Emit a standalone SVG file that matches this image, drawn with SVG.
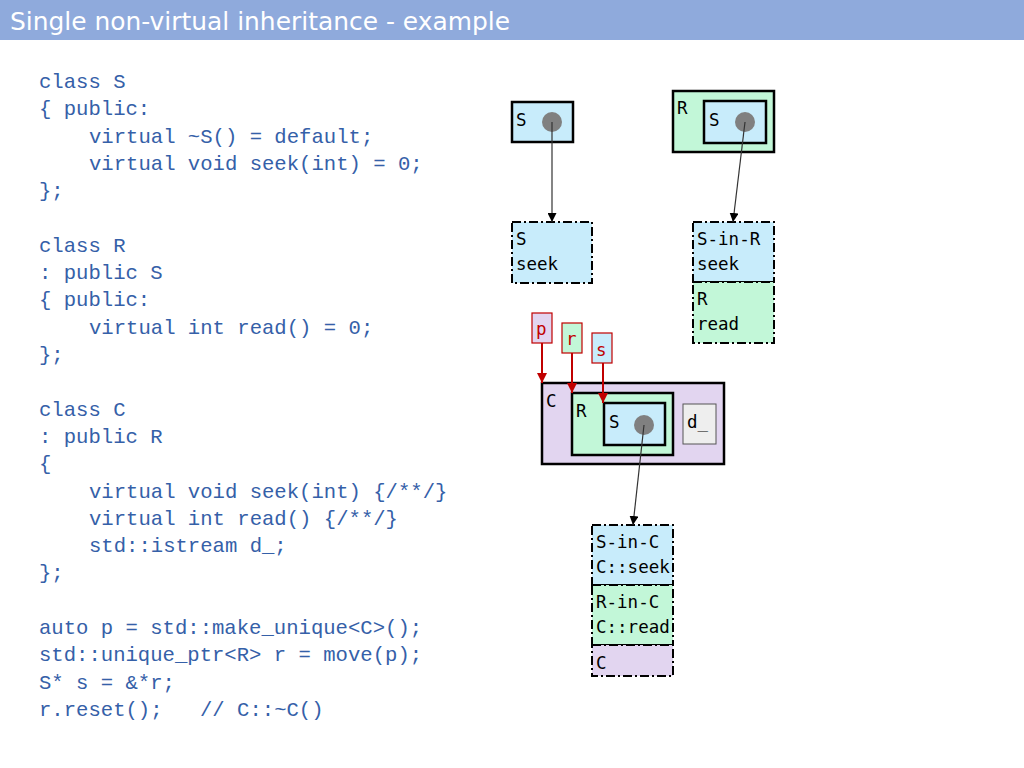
<svg xmlns="http://www.w3.org/2000/svg" width="1024" height="768" viewBox="0 0 1024 768">
<defs>
<style>
.code{font-family:"Liberation Mono","DejaVu Sans Mono",monospace;font-size:20.6px;fill:#3560A8;}
.lbl{font-family:"DejaVu Sans Mono","Liberation Mono",monospace;font-size:17.5px;fill:#000;}
.ptr{font-family:"DejaVu Sans Mono","Liberation Mono",monospace;font-size:17.5px;fill:#C00000;}
.obj{stroke:#000;stroke-width:2.5;}
.vt{stroke:#000;stroke-width:2;stroke-dasharray:9,3,2,3;}
.blue{fill:#C8ECFB;}
.green{fill:#C2F7D8;}
.purple{fill:#E2D5F0;}
.dot{fill:#808080;}
.link{stroke:#333;stroke-width:1.2;fill:none;marker-end:url(#ah);}
.plink{stroke:#C00000;stroke-width:2;fill:none;marker-end:url(#rh);}
.pbox{stroke:#C00000;stroke-width:1.2;}
</style>
<marker id="ah" viewBox="0 0 10 10" refX="10" refY="5" markerWidth="9" markerHeight="9" markerUnits="userSpaceOnUse" orient="auto"><path d="M0,0 L10,5 L0,10 z" fill="#000"/></marker>
<marker id="rh" viewBox="0 0 10 10" refX="10" refY="5" markerWidth="10" markerHeight="10" markerUnits="userSpaceOnUse" orient="auto"><path d="M0,0 L10,5 L0,10 z" fill="#C00000"/></marker>
</defs>
<rect x="0" y="0" width="1024" height="768" fill="#fff"/>
<rect x="0" y="0" width="1024" height="40" fill="#8FAADC"/>
<text x="10" y="30" font-family="'DejaVu Sans',Verdana,sans-serif" font-size="25" fill="#fff" textLength="500" lengthAdjust="spacingAndGlyphs">Single non-virtual inheritance - example</text>

<g id="code" class="code">
<text x="39" y="88">class S</text>
<text x="39" y="115.3">{ public:</text>
<text x="89" y="142.6">virtual ~S() = default;</text>
<text x="89" y="169.9">virtual void seek(int) = 0;</text>
<text x="39" y="197.2">};</text>
<text x="39" y="251.8">class R</text>
<text x="39" y="279.1">: public S</text>
<text x="39" y="306.4">{ public:</text>
<text x="89" y="333.7">virtual int read() = 0;</text>
<text x="39" y="361">};</text>
<text x="39" y="415.6">class C</text>
<text x="39" y="442.9">: public R</text>
<text x="39" y="470.2">{</text>
<text x="89" y="497.5">virtual void seek(int) {/**/}</text>
<text x="89" y="524.8">virtual int read() {/**/}</text>
<text x="89" y="552.1">std::istream d_;</text>
<text x="39" y="579.4">};</text>
<text x="39" y="634">auto p = std::make_unique&lt;C&gt;();</text>
<text x="39" y="661.3">std::unique_ptr&lt;R&gt; r = move(p);</text>
<text x="39" y="688.6">S* s = &amp;*r;</text>
<text x="39" y="715.9">r.reset();<tspan x="200">// C::~C()</tspan></text>
</g>

<g id="objS">
<rect class="obj blue" x="512" y="102" width="61" height="40"/>
<text class="lbl" x="516" y="126">S</text>
<circle class="dot" cx="552" cy="122" r="10"/>
</g>

<g id="objR">
<rect class="obj green" x="673" y="91" width="101" height="61"/>
<text class="lbl" x="677" y="114">R</text>
<rect class="obj blue" x="704" y="101" width="62" height="42"/>
<text class="lbl" x="709" y="126">S</text>
<circle class="dot" cx="745" cy="122" r="10"/>
</g>

<g id="vtS">
<rect class="vt blue" x="512" y="222" width="80" height="61"/>
<text class="lbl" x="516" y="245">S</text>
<text class="lbl" x="516" y="270">seek</text>
</g>

<g id="vtR">
<rect class="vt blue" x="693" y="222" width="81" height="60"/>
<rect class="vt green" x="693" y="282" width="81" height="61"/>
<text class="lbl" x="697" y="245">S-in-R</text>
<text class="lbl" x="697" y="270">seek</text>
<text class="lbl" x="697" y="305">R</text>
<text class="lbl" x="697" y="330">read</text>
</g>

<g id="ptrP">
<rect class="pbox purple" x="532" y="313" width="20" height="30"/>
<text class="ptr" x="536" y="335">p</text>
</g>
<g id="ptrR">
<rect class="pbox green" x="562" y="323" width="20" height="30"/>
<text class="ptr" x="566" y="345">r</text>
</g>
<g id="ptrS">
<rect class="pbox blue" x="592" y="333" width="20" height="30"/>
<text class="ptr" x="596" y="356">s</text>
</g>

<g id="objC">
<rect class="obj purple" x="542" y="383" width="182" height="81"/>
<text class="lbl" x="546" y="407">C</text>
<rect class="obj green" x="572" y="393" width="101" height="62"/>
<text class="lbl" x="576" y="417">R</text>
<rect class="obj blue" x="604" y="403" width="61" height="42"/>
<text class="lbl" x="609" y="428">S</text>
<circle class="dot" cx="644" cy="425" r="10"/>
<rect x="683" y="404" width="33" height="40" fill="#EEEEEE" stroke="#555" stroke-width="1"/>
<text class="lbl" x="687" y="428">d_</text>
</g>

<g id="vtC">
<rect class="vt blue" x="592" y="525" width="81" height="60"/>
<rect class="vt green" x="592" y="585" width="81" height="60"/>
<rect class="vt purple" x="592" y="645" width="81" height="31"/>
<text class="lbl" x="596" y="548">S-in-C</text>
<text class="lbl" x="596" y="573">C::seek</text>
<text class="lbl" x="596" y="608">R-in-C</text>
<text class="lbl" x="596" y="633">C::read</text>
<text class="lbl" x="596" y="669">C</text>
</g>

<g id="connectors">
<line class="link" x1="552" y1="122" x2="552" y2="222"/>
<line class="link" x1="745" y1="122" x2="733" y2="222"/>
<line class="link" x1="644" y1="425" x2="633" y2="525"/>
<line class="plink" x1="542" y1="343" x2="542" y2="383"/>
<line class="plink" x1="572" y1="353" x2="572" y2="393"/>
<line class="plink" x1="603" y1="363" x2="603" y2="403"/>
</g>
</svg>
